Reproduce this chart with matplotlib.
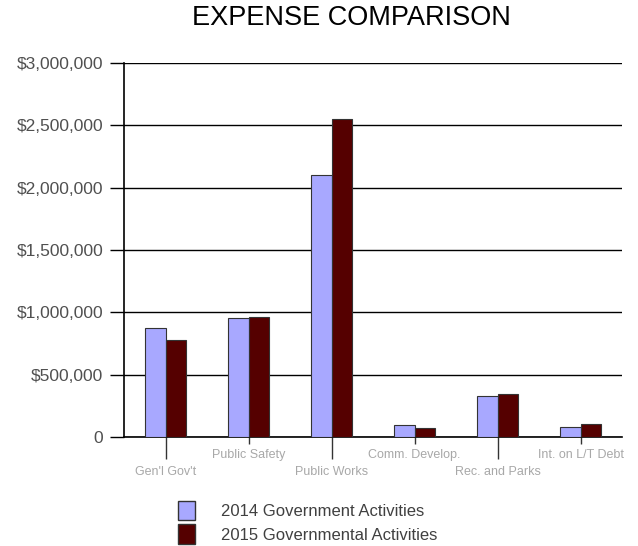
import numpy as np
import matplotlib.pyplot as plt
from matplotlib.ticker import FuncFormatter
from matplotlib.patches import Patch

plt.rcParams['font.family'] = ['Liberation Sans', 'DejaVu Sans']

# datos
categorias = ["Gen'l Gov't", "Public Safety", "Public Works",
              "Comm. Develop.", "Rec. and Parks", "Int. on L/T Debt"]
gastos_2014 = [874000, 955000, 2102000, 96000, 329000, 80000]
gastos_2015 = [778000, 963000, 2551000, 72000, 345000, 104000]
series = ["2014 Government Activities", "2015 Governmental Activities"]
yticks = [0, 500000, 1000000, 1500000, 2000000, 2500000, 3000000]

color14 = '#a8a8ff'
color15 = '#550000'

fig = plt.figure(figsize=(6.38, 5.46), dpi=100)
ax = fig.add_axes([124/638, 1-437/546, 498/638, 374/546])

x = np.arange(len(categorias))
w = 0.25
ax.bar(x - w/2, gastos_2014, w, color=color14, edgecolor='#333333', linewidth=0.8, zorder=3)
ax.bar(x + w/2, gastos_2015, w, color=color15, edgecolor='#333333', linewidth=0.8, zorder=3)

ax.set_xlim(-0.5, len(categorias) - 0.5)
ax.set_ylim(0, 3000000)
ax.set_yticks(yticks)
ax.yaxis.set_major_formatter(FuncFormatter(lambda v, p: '0' if v == 0 else '${:,.0f}'.format(v)))
ax.tick_params(axis='y', length=10, width=1, colors='black', labelcolor='#505050',
               labelsize=12.5, pad=5)
ax.yaxis.grid(True, color='black', linewidth=1, zorder=0)
ax.set_axisbelow(True)

# marcas del eje x alternadas: largas y cortas
ax.set_xticks(x[::2])
ax.set_xticks(x[1::2], minor=True)
ax.set_xticklabels([])
ax.tick_params(axis='x', which='major', length=16, width=1, colors='#333333')
ax.tick_params(axis='x', which='minor', length=5, width=1, colors='#333333')
for i, c in enumerate(categorias):
    yoff = -25 if i % 2 == 0 else -13
    ax.annotate(c, (i, 0), xytext=(0, yoff), textcoords='offset points',
                ha='center', va='center', fontsize=9, color='#a8a8a8',
                annotation_clip=False)

for s in ['top', 'right']:
    ax.spines[s].set_visible(False)
ax.spines['left'].set_linewidth(1.2)
ax.spines['bottom'].set_linewidth(1.2)

fig.text(351.5/638, 1-18/546, 'EXPENSE COMPARISON', ha='center', va='center',
         fontsize=19.5, color='black')

handles = [Patch(facecolor=color14, edgecolor='#333333'),
           Patch(facecolor=color15, edgecolor='#333333')]
fig.legend(handles, series, loc='upper left', bbox_to_anchor=(163/638, 1-486/546),
           frameon=False, fontsize=12, labelcolor='#404040', handlelength=1.0,
           handleheight=1.4, handletextpad=1.6, labelspacing=0.25)

plt.savefig('out.png', dpi=100)
